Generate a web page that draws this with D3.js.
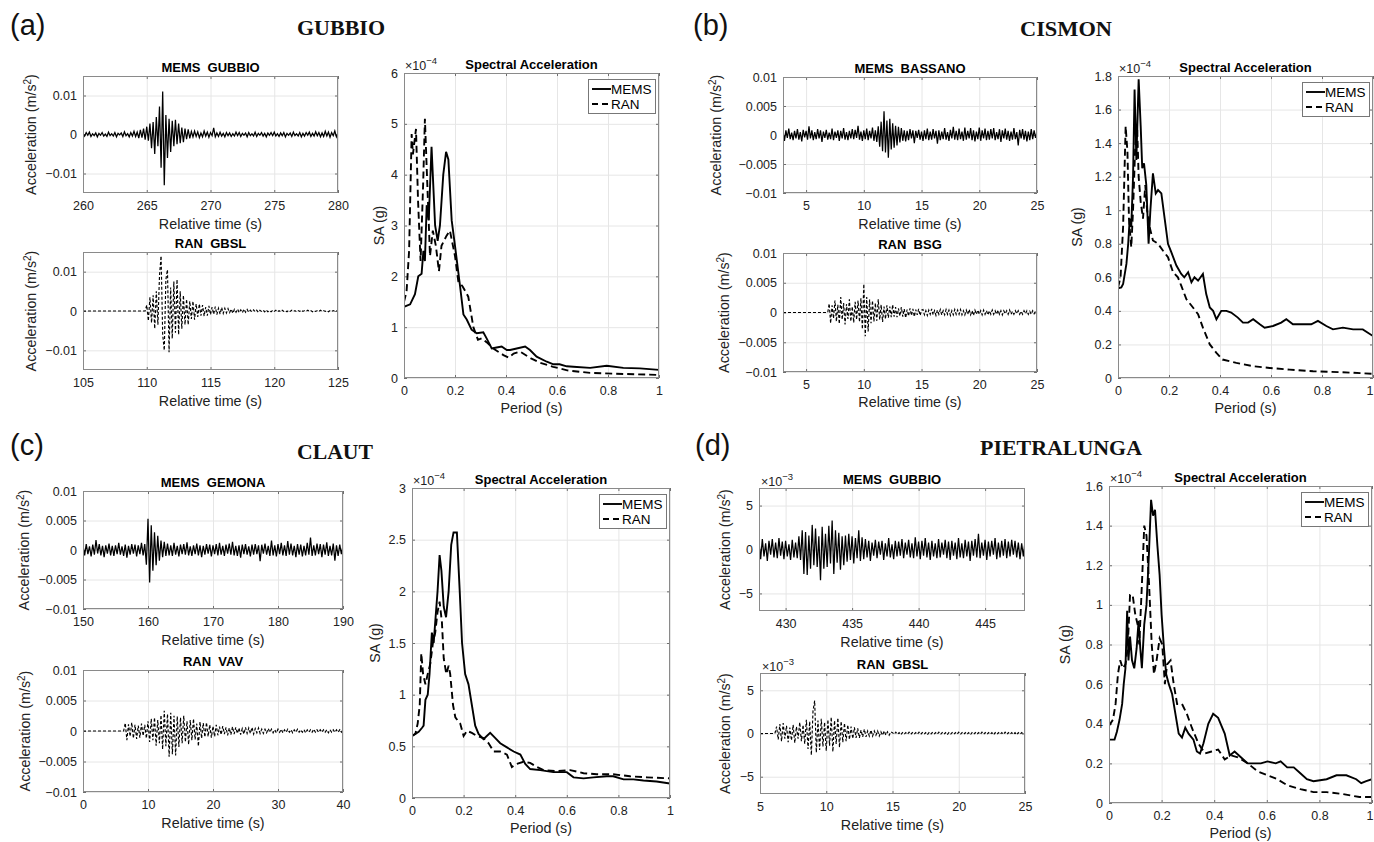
<!DOCTYPE html>
<html><head><meta charset="utf-8">
<script src="https://cdn.jsdelivr.net/npm/d3@7"></script>
<style>
body{margin:0;background:#fff}
svg{display:block}
text{font-family:"Liberation Sans",Arial,Helvetica,sans-serif}
</style>
</head><body>
<svg id="c" width="1374" height="842"></svg>
<script>
// ---------------- DATA (accelerations in 1e-3 m/s^2, SA in 1e-4 g) ----------------
const memsGubbioA_t0 = 260, memsGubbioA_dt = 0.125;
const memsGubbioA = [0.3,-0.4,0.5,-0.2,0.6,-0.5,0.2,-0.3,0.4,-0.6,0.3,-0.2,0.5,-0.4,0.1,-0.5,0.6,-0.3,0.2,-0.4,0.5,-0.6,0.3,-0.1,0.4,-0.5,0.7,-0.3,0.2,-0.6,0.5,-0.4,0.8,-0.5,0.6,-0.9,
1.2,-0.8,1.5,-1.3,2.0,-1.6,2.8,-3.5,3.2,-5.0,4.5,-3.0,
7.2,-8.5,11.0,-13.0,5.0,-6.0,4.0,-4.5,
3.5,-3.0,3.8,-2.5,2.8,-2.2,1.8,-2.0,1.5,-1.2,1.3,-1.0,
0.8,-0.6,0.9,-0.5,0.7,-0.8,0.4,-0.6,0.9,-0.4,0.6,-0.7,0.5,-0.3,1.7,-0.6,0.4,-0.5,0.6,-0.4,0.3,-0.6,0.5,-0.3,0.4,-0.5,0.2,-0.4,0.6,-0.3,0.5,-0.5,0.3,-0.2,0.4,-0.6,0.5,-0.3,0.2,-0.4,0.6,-0.5,0.3,-0.2,0.5,-0.4,0.3,-0.6,0.4,-0.2,0.5,-0.3,0.6,-0.4,0.2,-0.5,0.4,-0.3,0.5,-0.6,0.3,-0.2,0.4,-0.5,0.6,-0.3,0.2,-0.4,0.5,-0.6,0.3,-0.4,0.5,-0.2,0.6,-0.5,0.3,-0.4,0.7,-0.3,0.5,-0.6,0.4,-0.5,0.8,-0.4,0.6,-0.7,0.5,-0.3,0.9,-0.6,0.4];

const ranGbslA_t0 = 105, ranGbslA_dt = 0.125;
const ranGbslA = [0,0,0,0,0,0,0,0,0,0,0,0,0,0,0,0,0,0,0,0,0,0,0,0,0,0,0,0,0,0,0,0,0,0,0,0,0,0,0,0,
1.5,-2.5,3.5,-3.0,4.0,-4.5,5.0,-3.5,
9.0,14.0,-6.0,-10.0,8.0,10.5,-10.5,6.0,
-7.0,7.5,-5.5,8.0,-6.0,5.0,-4.5,4.0,
-3.5,3.0,-3.5,2.5,-2.0,2.5,-2.2,1.8,
-1.5,1.8,-1.2,1.5,-1.3,1.0,-1.2,1.3,-0.9,1.0,-0.8,1.1,-0.9,0.7,-0.8,0.9,
-0.6,0.7,-0.5,0.6,-0.4,0.5,-0.6,0.4,-0.3,0.5,-0.4,0.3,-0.4,0.5,-0.3,0.4,
-0.3,0.2,-0.2,0.3,-0.2,0.2,-0.3,0.2,-0.1,0.2,-0.2,0.3,-0.2,0.1,-0.2,0.2,-0.1,0.2,-0.2,0.1,-0.2,0.2,-0.1,0.1,-0.2,0.2,-0.1,0.2,-0.1,0.1,-0.2,0.1,-0.1,0.2,-0.1,0.1,-0.1,0.2,-0.1,0.1,-0.2,0.1,-0.1,0.1,-0.1,0.2,-0.1,0.1,-0.1,0.1,-0.2,0.1,-0.1,0.1,-0.1,0.1,-0.1];

const memsBassanoB_t0 = 3, memsBassanoB_dt = 0.125;
const memsBassanoB = [0.6,-1.0,0.8,-0.5,1.1,-0.7,0.4,-0.9,0.7,-0.6,1.0,-0.8,0.5,-1.1,0.9,-0.4,0.7,-0.8,1.5,-0.6,0.8,-0.9,0.5,-0.7,1.0,-0.6,0.8,-1.2,0.6,-0.5,0.9,-0.8,0.4,-0.7,1.1,-0.9,0.6,-0.5,0.8,-1.0,0.7,-0.6,1.2,-0.8,0.5,-0.9,0.7,-0.6,1.0,-0.7,0.9,-0.5,1.6,-0.8,0.6,-1.0,0.8,-0.7,1.1,-0.9,0.7,-0.6,1.3,-1.0,0.8,-1.2,
1.5,-2.0,2.3,-2.8,4.1,-3.0,2.5,-3.9,2.8,-2.5,2.0,-2.2,1.6,-1.8,1.4,
-1.3,1.2,-1.0,0.8,-1.1,0.7,-0.9,1.0,-0.6,0.8,-1.4,0.7,-0.5,0.9,-0.8,0.6,-1.0,0.8,-0.7,1.1,-0.9,0.6,-0.8,1.0,-0.6,0.7,-1.5,0.8,-0.9,0.6,-0.7,1.2,-0.8,0.5,-1.0,0.9,-0.6,1.4,-0.8,0.7,-0.9,1.1,-0.7,0.6,-1.0,1.3,-0.8,0.7,-0.6,1.2,-0.9,0.8,-1.1,0.6,-0.7,1.3,-1.0,0.8,-0.6,1.1,-0.9,0.7,-0.8,1.0,-0.6,1.2,-0.9,0.5,-0.7,1.0,-1.2,0.8,-0.6,1.1,-0.8,0.7,-1.0,0.6,-0.8,1.2,-0.7,0.5,-1.8,0.9,-0.6,1.0,-0.8,0.7,-1.1,0.6,-0.9,1.0,-0.7,0.8,-0.5,0.6];

const ranBsgB_t0 = 3, ranBsgB_dt = 0.125;
const ranBsgB = [0,0,0,0,0,0,0,0,0,0,0,0,0,0,0,0,0,0,0,0,0,0,0,0,0,0,0,0,0,0,0,0,
1.5,-1.8,1.2,-1.0,2.0,-1.5,1.3,-1.9,2.6,-1.2,1.6,-2.0,1.4,-1.1,2.2,-1.5,1.0,-1.7,1.8,-1.2,
2.0,-1.6,2.4,-2.8,4.8,-4.0,2.6,-3.2,2.2,
-1.8,2.0,-1.5,1.6,-1.4,2.2,-1.2,1.3,-1.6,1.0,-1.1,1.2,
-0.9,1.0,-0.8,1.3,-0.7,0.9,-0.8,0.7,-0.6,0.9,-0.7,0.6,-0.9,0.5,-0.6,0.7,-0.5,0.6,-0.7,0.5,-0.4,0.6,-0.5,0.4,
0.5,-0.4,0.3,-0.5,0.4,-0.3,0.6,-0.4,0.3,-0.5,0.4,-0.3,0.5,-0.4,0.3,-0.4,0.5,-0.3,0.4,-0.5,0.3,-0.4,0.5,-0.3,0.4,-0.3,0.5,-0.4,0.3,-0.4,0.4,-0.3,0.5,-0.4,0.3,-0.5,0.4,-0.3,0.4,-0.3,0.3,-0.4,0.4,-0.3,0.3,-0.4,0.3,-0.3,0.4,-0.3,0.3,-0.3,0.4,-0.3,0.3,-0.4,0.3,-0.2,0.3,-0.3,0.4,-0.3,0.2,-0.3,0.3,-0.2,0.3,-0.3,0.2,-0.3,0.3,-0.2,0.3,-0.3,0.2,-0.3,0.3,-0.2,0.2,-0.3];

const memsGemonaC_t0 = 150, memsGemonaC_dt = 0.25;
const memsGemonaC = [0.8,-0.9,1.0,-0.7,0.6,-1.1,0.9,-0.8,1.7,-0.6,1.0,-0.9,0.7,-1.2,0.8,-0.6,1.1,-0.9,0.7,-1.0,0.8,-0.7,1.2,-0.8,0.6,-1.0,0.9,-1.3,0.7,-0.8,1.0,-0.6,0.9,-1.1,0.8,-0.7,1.2,-0.9,1.0,
-2.5,5.3,-5.5,4.2,-3.5,3.0,-2.6,2.4,
-1.8,1.6,-1.2,1.4,-1.0,1.1,-0.9,0.8,-1.0,1.2,-0.8,0.7,-1.1,0.9,-0.7,1.0,-0.8,1.3,-0.9,0.6,
-1.0,0.8,-0.7,1.1,-0.9,0.8,-1.2,0.7,-0.8,1.0,-0.6,0.9,-1.1,0.8,-0.7,1.0,-0.9,1.2,-0.8,0.7,
-1.0,0.9,-0.6,1.1,-0.8,1.4,-0.9,0.7,-1.0,0.8,-1.3,0.9,-0.7,1.0,-0.8,0.6,-1.1,0.9,-0.8,1.0,
-0.7,0.8,-1.9,0.9,-0.6,1.1,-0.8,0.7,-1.0,1.6,-0.9,0.8,-1.1,1.0,-0.7,1.2,-0.9,0.8,-1.0,1.5,
-0.8,1.1,-0.9,0.7,-1.2,1.0,-0.8,0.9,-1.1,0.7,-0.9,1.2,-0.8,2.1,-1.0,0.8,-0.9,1.1,-0.7,1.0,
-1.2,0.9,-0.8,1.3,-1.0,0.7,-0.9,1.1,-1.8,0.8,-1.0,0.9,-0.7,0.8];

const ranVavC_t0 = 0, ranVavC_dt = 0.25;
const ranVavC = [0,0,0,0,0,0,0,0,0,0,0,0,0,0,0,0,0,0,0,0,0,0,0,0,0,0,
1.3,-1.5,1.1,-0.9,1.4,-1.2,1.0,-1.3,0.9,-1.1,1.2,-0.8,1.0,-1.2,
1.6,-1.8,2.0,-1.5,2.2,-2.4,1.8,-2.0,
2.6,-3.0,3.3,-2.5,2.8,-4.2,3.0,-3.8,2.5,-4.0,2.4,-2.6,
2.2,-2.0,2.5,-1.8,1.6,-2.2,1.8,-1.5,2.0,-1.4,1.2,-2.5,
1.5,-1.2,1.3,-1.0,1.4,-0.9,1.0,-1.1,0.8,-0.9,1.0,-0.7,
0.7,-0.6,0.8,-0.5,0.6,-0.7,0.5,-0.6,0.7,-0.5,0.6,-0.4,0.5,-0.6,0.4,-0.5,0.6,-0.4,0.5,-0.4,0.6,-0.5,0.4,-0.3,0.5,-0.4,0.3,-0.4,
0.3,-0.3,0.4,-0.2,0.3,-0.3,0.2,-0.3,0.3,-0.2,0.3,-0.3,0.2,-0.2,0.3,-0.2,0.2,-0.3,0.2,-0.2,0.3,-0.2,0.2,-0.2,0.2,-0.3,0.2,-0.2,0.2,-0.2,0.3,-0.2,0.2,-0.2,0.2,-0.2,0.2,-0.2,0.2,-0.3,0.2,-0.2,0.2,-0.2,0.2,-0.2,0.2,-0.2,0.2];

const memsGubbioD_t0 = 428, memsGubbioD_dt = 0.125;
const memsGubbioD = [0.9,-1.1,1.2,-0.8,0.7,-1.3,1.0,-0.6,1.2,-0.9,0.8,-1.0,1.3,-0.7,0.9,-1.1,1.0,-0.8,0.6,-1.2,1.1,-0.9,0.8,-1.0,
1.5,-1.2,2.2,-2.8,2.0,-2.9,1.6,-2.2,2.8,-1.8,2.4,-2.0,1.5,-3.5,2.6,-2.2,1.8,-2.0,2.7,-1.6,3.3,-2.8,2.2,-1.5,1.9,-2.3,1.5,-1.8,
1.6,-1.4,1.8,-1.2,1.5,-1.6,1.3,-1.0,2.2,-1.3,1.4,-1.1,
1.2,-0.9,1.0,-1.3,0.8,-0.7,1.1,-1.0,0.9,-0.6,1.0,-1.2,0.7,-0.8,1.3,-0.9,0.6,-1.1,1.0,-0.8,0.9,-0.7,1.2,-1.0,0.8,-0.6,1.1,-0.9,0.7,-1.0,1.4,-0.8,0.9,-1.1,1.0,-0.7,1.3,-0.9,0.8,-1.2,1.0,-0.8,0.7,-1.0,1.2,-0.9,0.8,-0.6,1.1,-1.0,0.9,-1.2,1.0,-0.7,0.8,-1.1,1.3,-0.9,0.7,-1.0,1.1,-0.8,0.9,-1.3,1.0,-0.7,1.2,-0.9,1.8,-1.0,0.8,-0.7,1.1,-1.2,0.9,-0.8,1.0,-0.6,1.3,-1.1,0.8,-0.9,1.0,-0.7,1.2,-1.0,0.9,-0.8,1.1,-0.6,1.0,-0.9,0.8,-1.1,0.7,-0.8,0.9];

const ranGbslD_t0 = 5, ranGbslD_dt = 0.125;
const ranGbslD = [0,0,0,0,0,0,0,0,0,0,
0.8,-0.7,1.1,-0.9,1.2,-0.6,0.9,-1.0,0.7,-0.8,1.0,-1.1,0.8,-0.6,1.3,-0.9,1.0,-1.2,
1.6,-1.8,1.4,-2.5,2.6,3.8,-2.2,1.5,
-1.9,1.7,-1.5,1.3,-2.0,1.6,-1.4,1.9,-2.1,1.5,-1.2,1.8,-1.6,1.4,-1.0,1.2,
-0.9,1.0,-0.7,0.8,-0.6,0.7,-0.5,0.6,-0.5,0.4,-0.4,0.5,
-0.4,0.3,-0.3,0.4,-0.3,0.3,-0.2,0.3,-0.3,0.2,-0.2,0.3,-0.2,0.2,-0.2,0.2,
0.1,-0.1,0.15,-0.1,0.1,-0.15,0.1,-0.1,0.1,-0.1,0.15,-0.1,0.1,-0.1,0.1,-0.1,0.15,-0.1,0.1,-0.1,0.1,-0.15,0.1,-0.1,0.1,-0.1,0.1,-0.1,0.15,-0.1,0.1,-0.1,0.1,-0.15,0.1,-0.1,0.1,-0.1,0.1,-0.1,0.15,-0.1,0.1,-0.1,0.1,-0.1,0.1,-0.15,0.1,-0.1,0.1,-0.1,0.1,-0.1,0.15,-0.1,0.1,-0.1,0.1,-0.1,0.1,-0.15,0.1,-0.1,0.1,-0.1,0.1,-0.1,0.15,-0.1,0.1,-0.1,0.1,-0.1,0.1,-0.15,0.1,-0.1,0.1,-0.1,0.1];

// Spectral acceleration: [period (s), SA (1e-4 g)]
const saMemsA = [[0,1.40],[0.024,1.45],[0.043,1.65],[0.056,2.0],[0.069,2.05],[0.076,2.5],[0.082,2.3],[0.089,3.4],[0.097,3.1],[0.108,4.55],[0.122,3.0],[0.132,2.7],[0.141,3.0],[0.154,4.0],[0.165,4.45],[0.174,4.3],[0.187,3.1],[0.2,2.6],[0.22,1.8],[0.233,1.25],[0.246,1.15],[0.265,0.95],[0.285,0.88],[0.311,0.9],[0.324,0.78],[0.344,0.58],[0.363,0.6],[0.383,0.62],[0.403,0.55],[0.416,0.55],[0.442,0.58],[0.475,0.62],[0.494,0.55],[0.52,0.42],[0.56,0.32],[0.586,0.27],[0.61,0.27],[0.638,0.23],[0.664,0.22],[0.73,0.2],[0.795,0.24],[0.86,0.2],[0.925,0.19],[1.0,0.16]];
const saRanA = [[0,1.5],[0.01,1.7],[0.02,2.5],[0.03,4.8],[0.035,4.4],[0.047,4.9],[0.055,3.5],[0.065,2.3],[0.075,3.8],[0.082,5.1],[0.09,4.0],[0.102,2.4],[0.113,2.9],[0.125,2.6],[0.137,2.1],[0.147,2.6],[0.167,2.8],[0.18,2.9],[0.2,2.4],[0.213,1.9],[0.23,1.8],[0.252,1.6],[0.272,1.0],[0.29,0.75],[0.305,0.78],[0.325,0.7],[0.35,0.58],[0.39,0.45],[0.41,0.4],[0.43,0.48],[0.455,0.52],[0.5,0.38],[0.533,0.3],[0.585,0.22],[0.64,0.15],[0.73,0.1],[0.86,0.08],[1.0,0.06]];
const saMemsB = [[0,0.535],[0.013,0.54],[0.02,0.56],[0.033,0.68],[0.04,0.8],[0.046,0.95],[0.052,0.9],[0.059,1.2],[0.065,1.72],[0.072,1.3],[0.081,1.78],[0.089,1.5],[0.095,1.25],[0.102,1.28],[0.111,1.15],[0.12,0.8],[0.127,1.0],[0.137,1.22],[0.148,1.1],[0.157,1.12],[0.17,1.1],[0.183,0.95],[0.196,0.8],[0.209,0.75],[0.229,0.67],[0.248,0.62],[0.26,0.6],[0.275,0.63],[0.288,0.57],[0.3,0.6],[0.314,0.58],[0.333,0.62],[0.346,0.5],[0.36,0.42],[0.373,0.4],[0.386,0.35],[0.405,0.4],[0.425,0.4],[0.444,0.39],[0.47,0.36],[0.49,0.33],[0.51,0.33],[0.53,0.35],[0.556,0.32],[0.575,0.3],[0.608,0.31],[0.64,0.33],[0.66,0.35],[0.686,0.32],[0.725,0.32],[0.758,0.32],[0.784,0.34],[0.817,0.31],[0.843,0.29],[0.882,0.3],[0.922,0.29],[0.96,0.29],[1.0,0.25]];
const saRanB = [[0,0.54],[0.01,0.6],[0.02,0.9],[0.03,1.5],[0.037,1.35],[0.043,0.95],[0.052,0.78],[0.059,1.0],[0.068,1.4],[0.075,1.5],[0.081,1.2],[0.089,1.05],[0.098,0.95],[0.107,1.15],[0.114,1.0],[0.124,0.9],[0.137,0.82],[0.157,0.8],[0.176,0.76],[0.196,0.72],[0.216,0.63],[0.235,0.6],[0.248,0.55],[0.268,0.47],[0.294,0.42],[0.314,0.38],[0.333,0.3],[0.36,0.2],[0.386,0.15],[0.41,0.11],[0.464,0.09],[0.53,0.07],[0.595,0.06],[0.673,0.05],[0.765,0.04],[0.87,0.035],[1.0,0.025]];
const saMemsC = [[0,0.6],[0.013,0.62],[0.026,0.64],[0.039,0.68],[0.045,0.7],[0.052,0.95],[0.061,1.0],[0.068,1.2],[0.077,1.6],[0.084,1.5],[0.09,1.7],[0.099,2.0],[0.107,2.35],[0.114,2.2],[0.123,1.85],[0.132,1.75],[0.142,2.0],[0.152,2.45],[0.161,2.57],[0.174,2.57],[0.185,2.0],[0.194,1.5],[0.206,1.2],[0.219,1.1],[0.232,0.9],[0.245,0.7],[0.258,0.62],[0.277,0.57],[0.29,0.6],[0.303,0.63],[0.323,0.58],[0.342,0.53],[0.368,0.49],[0.394,0.45],[0.42,0.42],[0.439,0.33],[0.458,0.28],[0.497,0.27],[0.548,0.25],[0.6,0.25],[0.626,0.2],[0.665,0.19],[0.703,0.2],[0.755,0.21],[0.78,0.21],[0.82,0.18],[0.858,0.18],[0.897,0.17],[0.948,0.16],[1.0,0.14]];
const saRanC = [[0,0.6],[0.013,0.62],[0.022,0.72],[0.03,0.9],[0.036,1.4],[0.043,1.2],[0.052,1.1],[0.061,1.2],[0.071,1.3],[0.081,1.5],[0.09,1.6],[0.099,1.8],[0.107,1.9],[0.116,1.7],[0.123,1.35],[0.133,1.2],[0.142,1.28],[0.148,1.2],[0.159,0.9],[0.168,0.78],[0.177,0.75],[0.187,0.72],[0.2,0.6],[0.213,0.65],[0.232,0.63],[0.252,0.6],[0.277,0.58],[0.297,0.53],[0.316,0.45],[0.342,0.45],[0.368,0.42],[0.387,0.3],[0.406,0.33],[0.432,0.35],[0.458,0.34],[0.484,0.3],[0.51,0.27],[0.561,0.26],[0.613,0.27],[0.665,0.24],[0.716,0.23],[0.78,0.23],[0.845,0.21],[0.91,0.2],[1.0,0.19]];
const saMemsD = [[0,0.32],[0.021,0.32],[0.03,0.36],[0.04,0.42],[0.05,0.5],[0.056,0.6],[0.0625,0.68],[0.069,0.97],[0.074,0.72],[0.08,0.84],[0.0875,0.72],[0.096,0.68],[0.105,0.78],[0.1125,0.92],[0.119,0.78],[0.125,0.68],[0.134,0.9],[0.1425,1.0],[0.15,1.2],[0.16,1.53],[0.1675,1.45],[0.175,1.48],[0.184,1.3],[0.1925,1.15],[0.2,0.95],[0.209,0.78],[0.2175,0.65],[0.2275,0.6],[0.24,0.55],[0.2525,0.45],[0.265,0.35],[0.2775,0.33],[0.29,0.38],[0.3025,0.35],[0.321,0.32],[0.334,0.26],[0.346,0.25],[0.359,0.3],[0.3775,0.4],[0.396,0.45],[0.415,0.43],[0.44,0.35],[0.459,0.24],[0.4775,0.26],[0.5025,0.23],[0.5275,0.2],[0.5525,0.2],[0.5775,0.2],[0.6025,0.21],[0.634,0.2],[0.6525,0.21],[0.6775,0.18],[0.7025,0.18],[0.7275,0.15],[0.7525,0.12],[0.7775,0.11],[0.8025,0.115],[0.8275,0.12],[0.865,0.14],[0.9025,0.14],[0.94,0.12],[0.959,0.1],[0.978,0.11],[1.0,0.12]];
const saRanD = [[0,0.39],[0.015,0.42],[0.025,0.5],[0.034,0.65],[0.0425,0.72],[0.0525,0.68],[0.0625,0.7],[0.071,0.78],[0.08,1.05],[0.09,1.05],[0.1,0.95],[0.109,0.9],[0.115,0.8],[0.125,1.1],[0.134,1.4],[0.1425,1.35],[0.1525,1.1],[0.1625,0.8],[0.171,0.65],[0.181,0.72],[0.1925,0.83],[0.2025,0.8],[0.2125,0.6],[0.221,0.7],[0.234,0.72],[0.246,0.6],[0.259,0.5],[0.2775,0.5],[0.296,0.45],[0.315,0.38],[0.34,0.3],[0.365,0.25],[0.39,0.26],[0.415,0.27],[0.44,0.22],[0.465,0.24],[0.49,0.23],[0.5275,0.2],[0.565,0.16],[0.6025,0.14],[0.64,0.12],[0.6775,0.09],[0.7275,0.07],[0.7775,0.055],[0.8275,0.055],[0.89,0.045],[0.9525,0.03],[1.0,0.03]];

// Tick values
const ticksTimeA1 = [260,265,270,275,280], ticksTimeA2 = [105,110,115,120,125];
const ticksTimeB = [5,10,15,20,25];
const ticksTimeC1 = [150,160,170,180,190], ticksTimeC2 = [0,10,20,30,40];
const ticksTimeD1 = [430,435,440,445], ticksTimeD2 = [5,10,15,20,25];
const ticksAccA = [-10,0,10], ticksAccBC = [-10,-5,0,5,10], ticksAccD = [-5,0,5];
const ticksPeriod = [0,0.2,0.4,0.6,0.8,1];
const ticksSaA = [0,1,2,3,4,5,6];
const ticksSaB = [0,0.2,0.4,0.6,0.8,1,1.2,1.4,1.6,1.8];
const ticksSaC = [0,0.5,1,1.5,2,2.5,3];
const ticksSaD = [0,0.2,0.4,0.6,0.8,1,1.2,1.4,1.6];

// ---------------- DRAWING ----------------
const svg = d3.select("#c");
const defs = svg.append("defs");
const FS_TICK = 12.5, FS_LABEL = 14.3, FS_TITLE = 13;
const MINUS = "\u2212";
const fmtAcc = d => d === 0 ? "0" : (d < 0 ? MINUS : "") + String(Math.abs(d) / 1000);
const fmtPlain = d => d === 0 ? "0" : (d < 0 ? MINUS : "") + String(Math.abs(d));
let clipId = 0;

function frame(L, x, y, xTicks, yTicks, xFmt, yFmt) {
  const g = svg.append("g");
  const W = L.x1 - L.x0, H = L.y1 - L.y0;
  g.append("rect").attr("x", L.x0).attr("y", L.y0).attr("width", W).attr("height", H).attr("fill", "#fff");
  // grid
  g.append("g").attr("transform", `translate(0,${L.y1})`)
    .call(d3.axisBottom(x).tickValues(xTicks).tickSize(-H).tickFormat(""))
    .call(s => { s.select(".domain").remove(); s.selectAll("line").attr("stroke", "#e6e6e6"); });
  g.append("g").attr("transform", `translate(${L.x0},0)`)
    .call(d3.axisLeft(y).tickValues(yTicks).tickSize(-W).tickFormat(""))
    .call(s => { s.select(".domain").remove(); s.selectAll("line").attr("stroke", "#e6e6e6"); });
  const style = s => {
    s.select(".domain").remove();
    s.selectAll("line").attr("stroke", "#6e6e6e");
    s.selectAll("text").attr("fill", "#222").style("font-size", FS_TICK + "px")
      .style("font-family", '"Liberation Sans",Arial,sans-serif');
  };
  const bx = g.append("g").attr("transform", `translate(0,${L.y1})`)
    .call(d3.axisBottom(x).tickValues(xTicks).tickSizeInner(-3).tickSizeOuter(0).tickPadding(8.5).tickFormat(xFmt)).call(style);
  // keep labels at the right page edge inside the picture
  bx.selectAll(".tick").each(function(d) {
    if (x(d) > 1366) d3.select(this).select("text").attr("text-anchor", "end").attr("x", 1373 - x(d));
  });
  g.append("g").attr("transform", `translate(${L.x0},0)`)
    .call(d3.axisLeft(y).tickValues(yTicks).tickSizeInner(-3).tickSizeOuter(0).tickPadding(6).tickFormat(yFmt)).call(style);
  g.append("g").attr("transform", `translate(0,${L.y0})`)
    .call(d3.axisTop(x).tickValues(xTicks).tickSizeInner(-3).tickSizeOuter(0).tickFormat("")).call(style);
  g.append("g").attr("transform", `translate(${L.x1},0)`)
    .call(d3.axisRight(y).tickValues(yTicks).tickSizeInner(-3).tickSizeOuter(0).tickFormat("")).call(style);
  const id = "clip" + (clipId++);
  defs.append("clipPath").attr("id", id).append("rect")
    .attr("x", L.x0).attr("y", L.y0).attr("width", W).attr("height", H);
  const plot = svg.append("g").attr("clip-path", `url(#${id})`);
  const top = svg.append("g");
  top.append("rect").attr("x", L.x0 + 0.5).attr("y", L.y0 + 0.5).attr("width", W - 1).attr("height", H - 1)
    .attr("fill", "none").attr("stroke", "#8a8a8a").attr("stroke-width", 1);
  return { plot, top };
}

function addTitle(g, L, txt) {
  g.append("text").attr("x", (L.x0 + L.x1) / 2).attr("y", L.y0 - 4).attr("text-anchor", "middle")
    .attr("xml:space", "preserve").style("white-space", "pre")
    .style("font-size", FS_TITLE + "px").style("font-weight", "bold").attr("fill", "#000").text(txt);
}
function addExp(g, x0, yb, exp) {
  const t = g.append("text").attr("x", x0).attr("y", yb).style("font-size", FS_TICK + "px").attr("fill", "#222");
  t.append("tspan").text("\u00d710");
  t.append("tspan").attr("dy", -6).style("font-size", "9.5px").text(exp);
}
function addXLabel(g, L, txt, off) {
  g.append("text").attr("x", (L.x0 + L.x1) / 2).attr("y", L.y1 + off).attr("text-anchor", "middle")
    .style("font-size", FS_LABEL + "px").attr("fill", "#222").text(txt);
}
function addAccYLabel(g, L, xb) {
  const cy = (L.y0 + L.y1) / 2;
  const t = g.append("text").attr("transform", `translate(${xb},${cy}) rotate(-90)`).attr("text-anchor", "middle")
    .style("font-size", FS_LABEL + "px").attr("fill", "#222");
  t.append("tspan").text("Acceleration (m/s");
  t.append("tspan").attr("dy", -5).style("font-size", "10px").text("2");
  t.append("tspan").attr("dy", 5).text(")");
}
function addYLabel(g, L, xb, txt) {
  const cy = (L.y0 + L.y1) / 2;
  g.append("text").attr("transform", `translate(${xb},${cy}) rotate(-90)`).attr("text-anchor", "middle")
    .style("font-size", FS_LABEL + "px").attr("fill", "#222").text(txt);
}

function drawTrace(L, o) {
  const x = d3.scaleLinear().domain(o.xDomain).range([L.x0, L.x1]);
  const y = d3.scaleLinear().domain(o.yDomain).range([L.y1, L.y0]);
  const f = frame(L, x, y, o.xTicks, o.yTicks, fmtPlain, o.yFmt);
  const line = d3.line().x((d, i) => x(o.t0 + i * o.dt)).y(d => y(d));
  f.plot.append("path").datum(o.values).attr("d", line).attr("fill", "none")
    .attr("stroke", "#000").attr("stroke-width", o.dashed ? 1.15 : 1.25)
    .attr("stroke-dasharray", o.dashed ? "3,2" : null).attr("stroke-linejoin", "miter");
  addTitle(f.top, L, o.title);
  if (o.exp) addExp(f.top, L.x0 + 2, L.y0 - 2, o.exp);
  addXLabel(f.top, L, "Relative time (s)", o.xlabOff || 36);
  addAccYLabel(f.top, L, o.ylabX);
}

function drawSA(L, o) {
  const x = d3.scaleLinear().domain([0, 1]).range([L.x0, L.x1]);
  const y = d3.scaleLinear().domain([0, o.yMax]).range([L.y1, L.y0]);
  const f = frame(L, x, y, ticksPeriod, o.yTicks, fmtPlain, fmtPlain);
  const line = d3.line().x(d => x(d[0])).y(d => y(d[1]));
  f.plot.append("path").datum(o.ran).attr("d", line).attr("fill", "none")
    .attr("stroke", "#000").attr("stroke-width", 1.9).attr("stroke-dasharray", "7,4");
  f.plot.append("path").datum(o.mems).attr("d", line).attr("fill", "none")
    .attr("stroke", "#000").attr("stroke-width", 1.9);
  addTitle(f.top, L, "Spectral Acceleration");
  addExp(f.top, L.x0 + 1, L.y0 - 3, MINUS + "4");
  addXLabel(f.top, L, "Period (s)", 35);
  addYLabel(f.top, L, o.ylabX, "SA (g)");
  // legend
  const bw = 67, bh = 34, bx = L.x1 - 4 - bw, by = L.y0 + 6;
  const lg = f.top.append("g");
  lg.append("rect").attr("x", bx + 0.5).attr("y", by + 0.5).attr("width", bw).attr("height", bh)
    .attr("fill", "#fff").attr("stroke", "#777").attr("stroke-width", 1);
  [["MEMS", null, 10], ["RAN", "6,4", 25]].forEach(([name, dash, dy]) => {
    lg.append("line").attr("x1", bx + 4).attr("x2", bx + 23).attr("y1", by + dy).attr("y2", by + dy)
      .attr("stroke", "#000").attr("stroke-width", 1.9).attr("stroke-dasharray", dash);
    lg.append("text").attr("x", bx + 23).attr("y", by + dy).attr("dy", "0.35em")
      .style("font-size", "13.5px").attr("fill", "#000").text(name);
  });
}

// Panel (a) GUBBIO
drawTrace({x0:83,x1:338,y0:76,y1:193}, {xDomain:[260,280], xTicks:ticksTimeA1, yDomain:[-15,15], yTicks:ticksAccA, yFmt:fmtAcc,
  values:memsGubbioA, t0:memsGubbioA_t0, dt:memsGubbioA_dt, title:"MEMS  GUBBIO", ylabX:36});
drawTrace({x0:83,x1:338,y0:252,y1:370}, {xDomain:[105,125], xTicks:ticksTimeA2, yDomain:[-15,15], yTicks:ticksAccA, yFmt:fmtAcc,
  values:ranGbslA, t0:ranGbslA_t0, dt:ranGbslA_dt, dashed:true, title:"RAN  GBSL", ylabX:36});
drawSA({x0:404,x1:659,y0:73,y1:378}, {yMax:6, yTicks:ticksSaA, mems:saMemsA, ran:saRanA, ylabX:384});

// Panel (b) CISMON
drawTrace({x0:783,x1:1037,y0:77,y1:193}, {xDomain:[3,25], xTicks:ticksTimeB, yDomain:[-10,10], yTicks:ticksAccBC, yFmt:fmtAcc,
  values:memsBassanoB, t0:memsBassanoB_t0, dt:memsBassanoB_dt, title:"MEMS  BASSANO", ylabX:721});
drawTrace({x0:783,x1:1037,y0:253,y1:372}, {xDomain:[3,25], xTicks:ticksTimeB, yDomain:[-10,10], yTicks:ticksAccBC, yFmt:fmtAcc,
  values:ranBsgB, t0:ranBsgB_t0, dt:ranBsgB_dt, dashed:true, title:"RAN  BSG", ylabX:729, xlabOff:35});
drawSA({x0:1118,x1:1373,y0:76,y1:378}, {yMax:1.8, yTicks:ticksSaB, mems:saMemsB, ran:saRanB, ylabX:1082});

// Panel (c) CLAUT
drawTrace({x0:83,x1:343,y0:491,y1:609}, {xDomain:[150,190], xTicks:ticksTimeC1, yDomain:[-10,10], yTicks:ticksAccBC, yFmt:fmtAcc,
  values:memsGemonaC, t0:memsGemonaC_t0, dt:memsGemonaC_dt, title:"MEMS  GEMONA", ylabX:29});
drawTrace({x0:83,x1:343,y0:670,y1:792}, {xDomain:[0,40], xTicks:ticksTimeC2, yDomain:[-10,10], yTicks:ticksAccBC, yFmt:fmtAcc,
  values:ranVavC, t0:ranVavC_t0, dt:ranVavC_dt, dashed:true, title:"RAN  VAV", ylabX:30});
drawSA({x0:412,x1:670,y0:488,y1:798}, {yMax:3, yTicks:ticksSaC, mems:saMemsC, ran:saRanC, ylabX:380});

// Panel (d) PIETRALUNGA
drawTrace({x0:759,x1:1025,y0:488,y1:611}, {xDomain:[428,448], xTicks:ticksTimeD1, yDomain:[-7,7], yTicks:ticksAccD, yFmt:fmtPlain,
  values:memsGubbioD, t0:memsGubbioD_t0, dt:memsGubbioD_dt, title:"MEMS  GUBBIO", exp:MINUS + "3", ylabX:730});
drawTrace({x0:760,x1:1025,y0:673,y1:794}, {xDomain:[5,25], xTicks:ticksTimeD2, yDomain:[-7,7], yTicks:ticksAccD, yFmt:fmtPlain,
  values:ranGbslD, t0:ranGbslD_t0, dt:ranGbslD_dt, dashed:true, title:"RAN  GBSL", exp:MINUS + "3", ylabX:730});
drawSA({x0:1109,x1:1372,y0:486,y1:803}, {yMax:1.6, yTicks:ticksSaD, mems:saMemsD, ran:saRanD, ylabX:1070});

// Panel labels and station names
const panelLabels = [["(a)",10,35],["(b)",693,35],["(c)",10,455],["(d)",695,455]];
panelLabels.forEach(([t,x,y]) => svg.append("text").attr("x",x).attr("y",y).style("font-size","29px").attr("fill","#111").text(t));
const stationNames = [["GUBBIO",297,35,88],["CISMON",1020,36,92],["CLAUT",297,459,76],["PIETRALUNGA",980,455,162]];
stationNames.forEach(([t,x,y,w]) => svg.append("text").attr("x",x).attr("y",y)
  .style("font-family",'"Liberation Serif","DejaVu Serif",serif').style("font-weight","bold").style("font-size","20px")
  .attr("textLength",w).attr("lengthAdjust","spacingAndGlyphs").attr("fill","#111").text(t));
</script>
</body></html>
